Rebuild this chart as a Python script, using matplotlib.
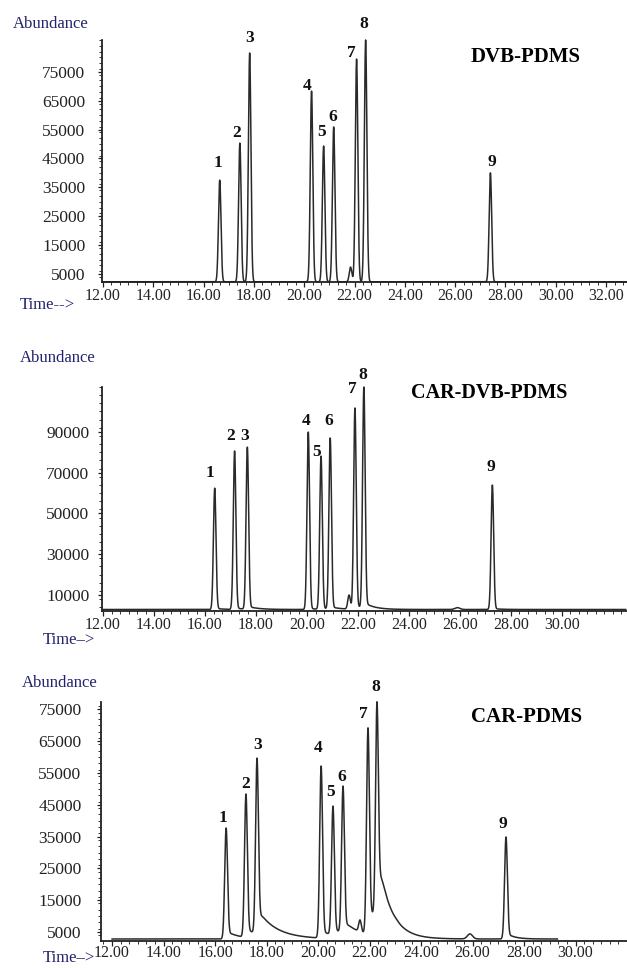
import numpy as np
import matplotlib.pyplot as plt
from matplotlib.ticker import MultipleLocator

plt.rcParams['font.family'] = ['Liberation Serif', 'DejaVu Serif']

# peak table: retention time (min), apex abundance, tailing amplitude / time constant
fibres = ['DVB-PDMS', 'CAR-DVB-PDMS', 'CAR-PDMS']

dvb_rt = [16.64, 17.44, 17.83, 20.29, 20.77, 21.17, 22.08, 22.44, 27.40]
dvb_top = [37500, 50300, 81500, 68300, 49300, 55900, 79400, 86000, 40000]
dvb_tail = [0, 0, 0, 0, 0, 0, 0, 0, 0]
dvb_tau = [0.4, 0.4, 0.4, 0.4, 0.4, 0.4, 0.4, 0.4, 0.4]
dvb_small_rt = [21.84]
dvb_small_top = [7400]
dvb_base = 2300

cdp_rt = [16.38, 17.16, 17.66, 20.05, 20.55, 20.91, 21.88, 22.23, 27.27]
cdp_top = [62400, 80600, 82500, 89900, 78100, 87000, 101700, 112000, 63900]
cdp_tail = [600, 800, 1500, 600, 600, 1200, 2000, 3000, 500]
cdp_tau = [0.3, 0.3, 0.4, 0.3, 0.3, 0.4, 0.3, 0.4, 0.3]
cdp_small_rt = [21.65, 25.90]
cdp_small_top = [10000, 3800]
cdp_base = 2900

cp_rt = [16.43, 17.20, 17.63, 20.12, 20.58, 20.97, 21.94, 22.29, 27.30]
cp_top = [37700, 48400, 59700, 57200, 44600, 50900, 69200, 77400, 34900]
cp_tail = [2500, 3000, 8200, 2500, 2500, 4200, 11000, 23000, 2000]
cp_tau = [0.5, 0.5, 0.75, 0.5, 0.5, 0.8, 0.4, 0.5, 0.3]
cp_small_rt = [21.63, 23.05, 25.90]
cp_small_top = [8800, 9000, 4400]
cp_base = 2800

# tick values for each panel
dvb_yticks = [5000, 15000, 25000, 35000, 45000, 55000, 65000, 75000]
cdp_yticks = [10000, 30000, 50000, 70000, 90000]
cp_yticks = [5000, 15000, 25000, 35000, 45000, 55000, 65000, 75000]
dvb_xticks = [12, 14, 16, 18, 20, 22, 24, 26, 28, 30, 32]
cdp_xticks = [12, 14, 16, 18, 20, 22, 24, 26, 28, 30]
cp_xticks = [12, 14, 16, 18, 20, 22, 24, 26, 28, 30]


def gauss(t, t0, s):
    return np.exp(-0.5 * ((t - t0) / s) ** 2)


def tail(t, t0, s, tau):
    d = np.clip(t - t0, 0, None)
    return np.exp(-d / tau) * (1 - np.exp(-(d / (2 * s)) ** 2))


def chromatogram(t, rt, top, amp, tau, small_rt, small_top, base, sig, small_sig):
    centres = list(rt) + list(small_rt)
    tops = np.array(list(top) + list(small_top), dtype=float)
    widths = [sig] * len(rt) + list(small_sig)
    tails = lambda x: sum(a * tail(x, r, sig, tt) for r, a, tt in zip(rt, amp, tau))
    # solve for core heights so the apex values come out as read
    c = np.array(centres)
    G = np.array([[gauss(ci, cj, wj) for cj, wj in zip(centres, widths)] for ci in c])
    rhs = tops - base - np.array([tails(ci) for ci in c])
    core = np.linalg.solve(G, rhs)
    y = base + tails(t)
    for cj, wj, hj in zip(centres, widths, core):
        y = y + hj * gauss(t, cj, wj)
    return y


fig = plt.figure(figsize=(6.27, 9.68), dpi=100)
W, H = 627.0, 968.0


def px_axes(left, top, bottom):
    return fig.add_axes([left / W, 1 - bottom / H, (W - left) / W, (bottom - top) / H])


def style(ax, xlim, ylim, xticks, yticks, ymin_step, ypad, xpad):
    ax.set_xlim(*xlim)
    ax.set_ylim(*ylim)
    for s in ['top', 'right']:
        ax.spines[s].set_visible(False)
    for s in ['left', 'bottom']:
        ax.spines[s].set_linewidth(1.3)
        ax.spines[s].set_color('#222222')
    ax.set_xticks(xticks)
    ax.set_xticklabels(['%.2f' % v for v in xticks])
    ax.xaxis.set_minor_locator(MultipleLocator(1 / 3))
    ax.set_yticks(yticks)
    ax.set_yticklabels([str(v) for v in yticks])
    ax.yaxis.set_minor_locator(MultipleLocator(ymin_step))
    ax.tick_params(axis='x', which='major', length=3.5, width=0.9, pad=xpad,
                   labelsize=11.5, colors='#222222')
    ax.tick_params(axis='y', which='major', length=3, width=0.9, pad=ypad,
                   labelsize=12.5, colors='#222222')
    ax.tick_params(which='minor', length=2, width=0.7, color='#333333')
    ax.patch.set_alpha(0)


def peak_labels(ax, rt, top, dx, dy):
    for i, (r, h) in enumerate(zip(rt, top)):
        ax.annotate(str(i + 1), xy=(r, h), xytext=(dx[i], dy[i]), textcoords='offset pixels',
                    ha='center', va='center', fontsize=12.5, fontweight='bold', color='#111111',
                    annotation_clip=False)


navy = '#22226e'
line_kw = dict(color='#2a2a2a', lw=1.1, clip_on=False, solid_joinstyle='round')

# DVB-PDMS
ax1 = px_axes(102, 40, 282)
t1 = np.arange(11.96, 32.8, 0.002)
ax1.plot(t1, chromatogram(t1, dvb_rt, dvb_top, dvb_tail, dvb_tau, dvb_small_rt,
                          dvb_small_top, dvb_base, 0.05, [0.05]), **line_kw)
style(ax1, (11.96, 32.83), (2230, 86000), dvb_xticks, dvb_yticks, 2000, 9, 0.5)
peak_labels(ax1, dvb_rt, dvb_top, [-2, -3, 0, -4, -2, -1, -5, -2, 1], [17, 10, 15, 5, 14, 10, 6, 16, 11])
fig.text(526 / W, 1 - 57 / H, fibres[0], ha='center', va='center', fontsize=15, fontweight='bold')
fig.text(13 / W, 1 - 24 / H, 'Abundance', ha='left', va='center', fontsize=12, color=navy)
fig.text(20 / W, 1 - 305 / H, 'Time-->', ha='left', va='center', fontsize=12, color=navy)

# CAR-DVB-PDMS
ax2 = px_axes(102, 387, 611)
t2 = np.arange(12.0, 32.5, 0.002)
ax2.plot(t2, chromatogram(t2, cdp_rt, cdp_top, cdp_tail, cdp_tau, cdp_small_rt,
                          cdp_small_top, cdp_base, 0.05, [0.05, 0.1]), **line_kw)
style(ax2, (11.96, 32.55), (2160, 112000), cdp_xticks, cdp_yticks, 4000, 6, 0.8)
peak_labels(ax2, cdp_rt, cdp_top, [-5, -4, -3, -2, -4, -1, -3, -1, -1], [15, 15, 11, 11, 4, 17, 19, 12, 18])
fig.text(489 / W, 1 - 393 / H, fibres[1], ha='center', va='center', fontsize=14.5, fontweight='bold')
fig.text(20 / W, 1 - 358 / H, 'Abundance', ha='left', va='center', fontsize=12, color=navy)
fig.text(43 / W, 1 - 640 / H, 'Time\u2013>', ha='left', va='center', fontsize=12, color=navy)

# CAR-PDMS
ax3 = px_axes(101, 702, 941)
t3 = np.arange(12.0, 29.3, 0.002)
ax3.plot(t3, chromatogram(t3, cp_rt, cp_top, cp_tail, cp_tau, cp_small_rt,
                          cp_small_top, cp_base, 0.055, [0.05, 0.08, 0.1]), **line_kw)
style(ax3, (11.57, 32.0), (2170, 77330), cp_xticks, cp_yticks, 2000, 11, -0.7)
peak_labels(ax3, cp_rt, cp_top, [-3, 0, 1, -3, -2, -1, -5, -1, -3], [10, 10, 13, 18, 14, 9, 14, 15, 13])
fig.text(527 / W, 1 - 717 / H, fibres[2], ha='center', va='center', fontsize=15, fontweight='bold')
fig.text(22 / W, 1 - 683 / H, 'Abundance', ha='left', va='center', fontsize=12, color=navy)
fig.text(43 / W, 1 - 958 / H, 'Time\u2013>', ha='left', va='center', fontsize=12, color=navy)

fig.savefig('out.png', dpi=100, facecolor='white')
